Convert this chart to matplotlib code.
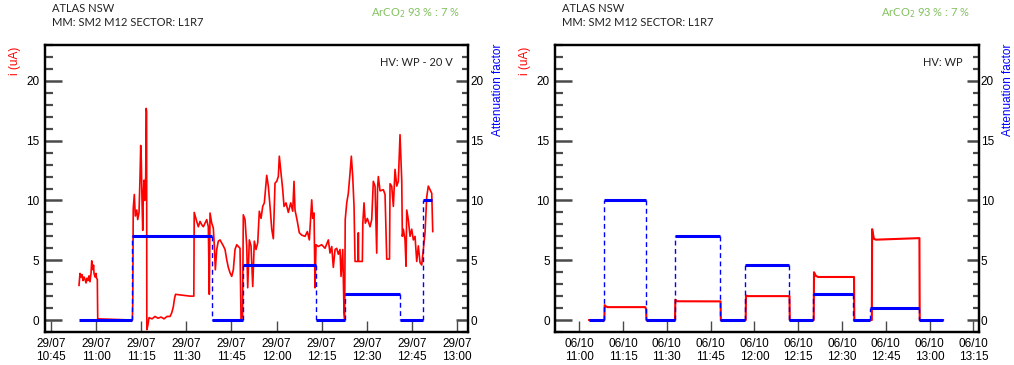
import numpy as np
import matplotlib.pyplot as plt
from matplotlib.ticker import MultipleLocator, FuncFormatter

# Times are minutes after 10:00 on the day of the run

# Run 1: 29/07, HV: WP - 20 V
left_date = "29/07"
left_red_t = [
    54.31, 54.64, 54.98, 55.31, 55.64, 55.97, 56.31, 56.64, 56.97, 57.30,
    57.64, 57.97, 58.30, 58.54, 58.80, 58.97, 59.13, 59.30, 59.63, 59.97,
    60.13, 60.40, 60.53, 72.04, 72.20, 72.34, 72.70, 73.03, 73.50, 73.83,
    74.27, 74.60, 74.83, 75.03, 75.26, 75.50, 75.70, 75.93, 76.16, 76.49,
    76.66, 76.79, 76.86, 77.16, 77.59, 78.59, 79.59, 80.58, 81.58, 82.58,
    83.58, 84.57, 85.14, 85.67, 86.07, 86.40, 87.90, 89.56, 91.23, 92.49,
    92.62, 93.45, 93.99, 94.55, 95.12, 95.65, 96.21, 96.78, 97.31, 97.64,
    97.88, 98.44, 98.97, 99.31, 99.64, 100.11, 100.64, 101.20, 101.77, 102.30,
    102.87, 103.43, 103.96, 104.53, 105.09, 105.63, 106.19, 106.76, 107.29, 107.85,
    108.19, 108.69, 108.95, 109.52, 110.08, 110.41, 110.95, 111.51, 112.08, 112.61,
    113.17, 113.74, 114.27, 114.84, 115.40, 115.94, 116.73, 117.27, 117.83, 118.40,
    118.93, 119.49, 120.06, 120.59, 120.92, 121.49, 122.05, 122.49, 123.15, 123.92,
    124.71, 125.38, 125.81, 126.14, 126.91, 127.57, 128.37, 129.47, 130.24, 130.90,
    131.37, 131.70, 132.03, 132.46, 132.80, 133.13, 133.89, 135.02, 136.12, 137.22,
    137.78, 138.35, 138.88, 139.45, 140.01, 140.54, 141.11, 141.44, 142.01, 142.44,
    142.64, 142.84, 143.34, 143.87, 144.44, 144.87, 145.33, 145.77, 146.10, 147.10,
    147.20, 147.29, 148.53, 148.69, 149.09, 149.52, 150.19, 151.09, 151.65, 152.18,
    152.75, 153.31, 153.58, 153.85, 154.41, 155.51, 156.08, 156.64, 157.57, 157.74,
    158.30, 158.84, 159.40, 159.97, 160.50, 161.06, 161.63, 161.83, 162.16, 162.73,
    163.06, 163.29, 163.82, 164.39, 164.95, 165.49, 166.05, 166.62, 167.15, 167.72,
    168.28, 168.81, 169.38, 169.94, 170.47, 171.04, 171.61, 171.94,
]
left_red_i = [
    2.9, 3.9, 3.6, 3.8, 3.3, 3.6, 3.4, 3.1, 3.5, 3.3,
    3.7, 3.2, 3.9, 4.95, 4.4, 4.2, 4.6, 3.9, 3.6, 3.9,
    3.5, 3.4, 0.1, 0.0, 1.5, 9.3, 10.5, 8.7, 9.2, 8.4,
    9.0, 12.0, 14.6, 13.3, 10.0, 7.5, 10.5, 11.7, 10.0, 12.0,
    17.7, 17.4, -0.8, -0.5, 0.2, 0.1, 0.3, 0.15, 0.25, 0.1,
    0.3, 0.3, 0.6, 1.1, 1.8, 2.15, 2.1, 2.05, 2.0, 2.0,
    9.0, 8.25, 7.8, 8.25, 7.97, 7.8, 8.1, 8.4, 7.8, 2.15,
    8.95, 8.1, 7.7, 6.2, 4.2, 5.9, 6.6, 6.7, 6.45, 6.2,
    5.9, 5.05, 4.4, 3.95, 3.65, 4.2, 5.9, 6.3, 6.15, 6.0,
    0.1, 0.2, 8.8, 8.4, 6.2, 2.7, 6.7, 6.2, 2.8, 6.6,
    5.9, 6.45, 9.1, 8.5, 9.5, 9.8, 12.1, 11.2, 9.5, 7.6,
    6.8, 11.45, 11.6, 12.0, 13.7, 12.3, 10.9, 9.5, 9.8, 9.0,
    9.8, 9.1, 11.6, 9.2, 8.25, 7.3, 7.1, 7.0, 7.4, 6.7,
    8.7, 10.05, 8.5, 8.95, 2.7, 6.3, 6.15, 6.3, 6.0, 6.7,
    5.6, 6.15, 4.4, 5.9, 6.0, 5.5, 5.9, 3.65, 5.9, 0.6,
    0.1, 8.4, 9.8, 10.6, 12.3, 13.7, 12.0, 9.5, 4.9, 4.9,
    7.3, 4.9, 4.9, 8.1, 9.8, 8.1, 8.5, 7.8, 8.4, 11.6,
    11.2, 5.6, 11.0, 12.0, 10.8, 10.9, 10.5, 5.1, 5.1, 11.4,
    11.2, 9.5, 12.6, 11.2, 11.6, 15.5, 11.7, 7.0, 7.6, 6.7,
    4.5, 9.2, 8.4, 7.0, 7.6, 6.7, 7.0, 4.9, 6.2, 4.8,
    4.6, 5.9, 7.3, 10.3, 11.2, 10.9, 10.6, 7.4,
]
left_att_edges = [54.31, 72.04, 98.64, 108.95, 133.03, 142.77, 161.16, 168.61, 171.81]
left_att_level = [0, 7, 0, 4.6, 0, 2.2, 0, 10]

# Run 2: 06/10, HV: WP
right_date = "06/10"
right_red_t = [
    63.4, 68.6, 68.7, 69.2, 69.8, 82.6, 82.9, 83.0, 92.8, 92.9,
    93.5, 108.4, 108.5, 117.0, 117.1, 117.8, 132.0, 132.1, 140.3, 140.4,
    141.0, 141.8, 154.1, 154.2, 160.2, 160.3, 160.9, 161.6, 176.5, 176.6,
    184.6,
]
right_red_i = [
    0, 0, 1.25, 1.12, 1.08, 1.08, 0.9, 0, 0, 1.7,
    1.57, 1.56, 0, 0, 2.05, 2.0, 2.0, 0, 0, 4.0,
    3.7, 3.6, 3.6, 0, 0, 7.6, 6.8, 6.72, 6.85, 0,
    0,
]
right_att_edges = [63.4, 68.6, 82.9, 92.7, 108.3, 116.8, 131.7, 140.0, 153.6, 159.7, 176.2, 184.6]
right_att_level = [0, 10, 0, 7, 0, 4.6, 0, 2.2, 0, 1, 0]

assert len(left_red_t) == len(left_red_i)
assert len(right_red_t) == len(right_red_i)

HEAD_FONT = "Lato"
TICK_FONT = "Liberation Sans"
GREEN = "#82c15e"
TICK_GREY = "#4a4a4a"

W, H = 1014, 365
fig = plt.figure(figsize=(W / 100, H / 100), dpi=100)


def panel(x0, date, red_t, red_i, edges, levels, hv_text, xlim, red_lw):
    """One current / attenuation panel, x0 is the left spine in pixels"""
    ax = fig.add_axes([x0 / W, 1 - 332 / H, 423.4 / W, 287 / H])
    ax.plot(red_t, red_i, color="red", lw=red_lw)
    ax.set_xlim(*xlim)
    ax.set_ylim(-1, 23)

    tw = ax.twinx()
    tw.set_ylim(-1, 23)
    for k, lev in enumerate(levels):
        tw.hlines(lev, edges[k], edges[k + 1], color="blue", lw=2.2)
        if k > 0:
            tw.vlines(edges[k], levels[k - 1], lev, color="blue", lw=1.0,
                      linestyles=(0, (3.5, 2.5)))

    # ticks
    ax.xaxis.set_major_locator(MultipleLocator(15))
    ax.xaxis.set_major_formatter(FuncFormatter(
        lambda v, p: f"{date}\n{int(round(v)) // 60 + 10:02d}:{int(round(v)) % 60:02d}"))
    ax.tick_params(axis="x", direction="in", length=8, width=1, color=TICK_GREY,
                   pad=4, top=False)
    for a, side in ((ax, "left"), (tw, "right")):
        a.yaxis.set_major_locator(MultipleLocator(5))
        a.yaxis.set_minor_locator(MultipleLocator(1))
        big = 12 if side == "left" else 9
        a.tick_params(axis="y", which="major", direction="in", length=big, width=1.8,
                      color=TICK_GREY, pad=4 if side == "left" else 1.5)
        a.tick_params(axis="y", which="minor", direction="in", length=big / 2, width=1.6,
                      color=TICK_GREY)
    for a in (ax, tw):
        for lab in a.get_xticklabels() + a.get_yticklabels():
            lab.set_fontfamily(TICK_FONT)
            lab.set_fontsize(8.5)
        for s in a.spines.values():
            s.set_linewidth(1.6)
    tw.tick_params(axis="x", which="both", bottom=False, top=False)

    # labels and header texts
    fig.text((x0 - 30) / W, 1 - 47 / H, "i (uA)", color="red", rotation=90,
             ha="center", va="top", fontfamily=TICK_FONT, fontsize=8.5)
    fig.text((x0 + 453) / W, 1 - 44 / H, "Attenuation factor", color="blue", rotation=90,
             ha="center", va="top", fontfamily=TICK_FONT, fontsize=8.5)
    fig.text((x0 + 7) / W, 1 - 12 / H, "ATLAS NSW", fontfamily=HEAD_FONT,
             fontsize=8, color="#222222", va="baseline")
    fig.text((x0 + 7) / W, 1 - 26 / H, "MM: SM2 M12 SECTOR: L1R7", fontfamily=HEAD_FONT,
             fontsize=8, color="#222222", va="baseline")
    fig.text((x0 + 415) / W, 1 - 16 / H, "ArCO$_2$ 93 % : 7 %", fontfamily=HEAD_FONT,
             fontsize=8, color=GREEN, ha="right", va="baseline")
    ax.text(0.963, 1 - 21 / 287, hv_text, transform=ax.transAxes, ha="right", va="baseline",
            fontfamily=HEAD_FONT, fontsize=8, color="#222222")
    return ax


panel(45, left_date, left_red_t, left_red_i, left_att_edges, left_att_level,
      "HV: WP - 20 V", (43.0, 183.8), 1.2)
panel(555.3, right_date, right_red_t, right_red_i, right_att_edges, right_att_level,
      "HV: WP", (51.8, 196.8), 1.5)

fig.savefig("out.png", dpi=100)
